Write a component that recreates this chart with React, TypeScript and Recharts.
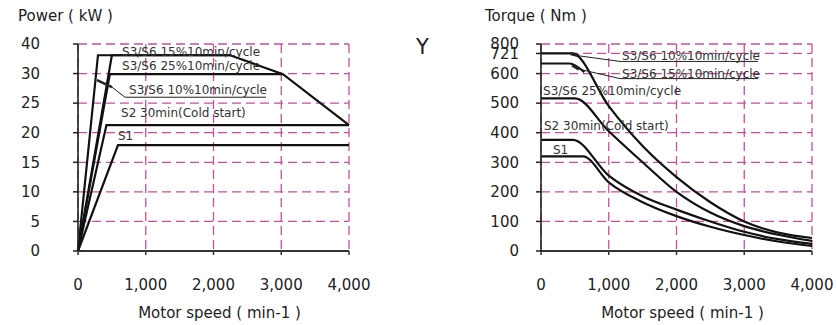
import React from 'react';
import {
  LineChart,
  Line,
  XAxis,
  YAxis,
  CartesianGrid,
  ReferenceLine,
  ReferenceDot,
} from 'recharts';

// shared speed axis (min-1)
const speedTicks = [0, 1000, 2000, 3000, 4000];

// power axis: the top slot is printed as 40 on the original
const powerTickPos = [0, 5, 10, 15, 20, 25, 30, 35];
const powerTickText = ['0', '5', '10', '15', '20', '25', '30', '40'];

// torque axis: 721 and 800 are squeezed into the top slots
const torqueTickPos = [0, 100, 200, 300, 400, 500, 600, 668, 700];
const torqueTickText = ['0', '100', '200', '300', '400', '500', '600', '721', '800'];

// power curves (speed, kW on the drawn scale)
const p15Speed = [0, 295, 2245, 3025, 4000];
const p15Power = [0, 33.1, 33.1, 29.9, 21.3];
const p10Speed = [0, 500, 2245];
const p10Power = [0, 33.1, 33.1];
const p25Speed = [0, 470, 3025];
const p25Power = [0, 29.9, 29.9];
const pS2Speed = [0, 420, 4000];
const pS2Power = [0, 21.3, 21.3];
const pS1Speed = [0, 590, 4000];
const pS1Power = [0, 17.9, 17.9];

// torque curves (speed, Nm on the drawn scale)
const t10Speed = [0, 460, 1000, 1500, 2000, 2500, 3000, 3500, 4000];
const t10Torque = [668, 668, 490, 355, 250, 165, 100, 62, 44];
const t15Speed = [0, 420, 640];
const t15Torque = [634, 634, 605];
const t25Speed = [0, 500, 1000, 1500, 2000, 2500, 3000, 3500, 4000];
const t25Torque = [516, 516, 405, 300, 200, 130, 84, 55, 34];
const tS2Speed = [0, 470, 1000, 1500, 2000, 2500, 3000, 3500, 4000];
const tS2Torque = [376, 376, 255, 185, 140, 100, 65, 40, 24];
const tS1Speed = [0, 620, 1000, 1500, 2000, 2500, 3000, 3500, 4000];
const tS1Torque = [320, 320, 232, 165, 118, 82, 54, 32, 17];

const rows = (xs: number[], ys: number[]) => xs.map((speed, i) => ({ speed, value: ys[i] }));

// curve captions: text, anchor speed, anchor value (left edge, vertical centre)
const powerNotes = [
  { text: 'S3/S6 15%10min/cycle', speed: 650, value: 33.7 },
  { text: 'S3/S6 25%10min/cycle', speed: 650, value: 31.2 },
  { text: 'S3/S6 10%10min/cycle', speed: 753, value: 27.3 },
  { text: 'S2 30min(Cold start)', speed: 635, value: 23.3 },
  { text: 'S1', speed: 590, value: 19.4 },
];
const torqueNotes = [
  { text: 'S3/S6 10%10min/cycle', speed: 1196, value: 658 },
  { text: 'S3/S6 15%10min/cycle', speed: 1196, value: 600 },
  { text: 'S3/S6 25%10min/cycle', speed: 30, value: 542 },
  { text: 'S2 30min(Cold start)', speed: 44, value: 424 },
  { text: 'S1', speed: 177, value: 342 },
];

// leader lines / underlines [speed0, value0, speed1, value1, width]
const powerLeaders = [
  [694, 26.0, 2775, 26.0, 1],
  [694, 26.0, 502, 27.7, 1],
  [502, 27.7, 280, 28.9, 2.5],
];
const torqueLeaders = [
  [1166, 641, 3203, 641, 1],
  [1166, 641, 560, 660, 1],
  [560, 660, 440, 667, 3],
  [1166, 583, 3203, 583, 1],
  [1166, 583, 560, 615, 1],
  [560, 615, 460, 628, 3],
];

const FONT = '"DejaVu Sans", Arial, sans-serif';
const GRID = '#c8509a';
const INK = '#111';

const note = (text: string) => (props: any) => {
  const { x, y } = props.viewBox;
  return (
    <text x={x + 1} y={y + 1} dominantBaseline="central" fontSize={12} fontFamily={FONT} fill="#333">
      {text}
    </text>
  );
};

function Panel(props: {
  left: number;
  width: number;
  margin: { top: number; right: number; left: number; bottom: number };
  yMax: number;
  yTicks: number[];
  yText: string[];
  yTickMargin: number;
  curves: Array<Array<{ speed: number; value: number }>>;
  curveType: 'linear' | 'monotone';
  notes: Array<{ text: string; speed: number; value: number }>;
  leaders: number[][];
}) {
  const { yTicks, yText } = props;
  return (
    <div style={{ position: 'absolute', left: props.left, top: 0 }}>
      <LineChart width={props.width} height={325} margin={props.margin}>
        <CartesianGrid stroke={GRID} strokeDasharray="9 5" strokeWidth={1.3} />
        <XAxis
          type="number"
          dataKey="speed"
          domain={[0, 4000]}
          ticks={speedTicks}
          interval={0}
          height={70}
          tickSize={4}
          tickMargin={24}
          tickFormatter={(v: number) => v.toLocaleString('en-US')}
          tick={{ fontSize: 15, fill: '#222', fontFamily: FONT }}
          axisLine={{ stroke: '#333', strokeWidth: 2 }}
          tickLine={{ stroke: '#333', strokeWidth: 1.5 }}
          label={{
            value: 'Motor speed ( min-1 )',
            position: 'insideBottom',
            offset: 3,
            dx: 6,
            fontSize: 15,
            fill: '#222',
            fontFamily: FONT,
          }}
        />
        <YAxis
          type="number"
          domain={[0, props.yMax]}
          ticks={yTicks}
          interval={0}
          width={60}
          tickSize={5}
          tickMargin={props.yTickMargin}
          tickFormatter={(v: number) => yText[yTicks.indexOf(v)]}
          tick={{ fontSize: 15, fill: '#222', fontFamily: FONT }}
          axisLine={{ stroke: '#222', strokeWidth: 1.6 }}
          tickLine={{ stroke: '#222', strokeWidth: 1.5 }}
        />
        {props.curves.map((data, i) => (
          <Line
            key={i}
            data={data}
            dataKey="value"
            type={props.curveType}
            stroke={INK}
            strokeWidth={2.2}
            dot={false}
            isAnimationActive={false}
          />
        ))}
        {props.leaders.map((s, i) => (
          <ReferenceLine
            key={'l' + i}
            segment={[
              { x: s[0], y: s[1] },
              { x: s[2], y: s[3] },
            ]}
            stroke="#222"
            strokeWidth={s[4]}
          />
        ))}
        {props.notes.map((n, i) => (
          <ReferenceDot
            key={'n' + i}
            x={n.speed}
            y={n.value}
            r={1}
            fill="none"
            stroke="none"
            label={note(n.text)}
          />
        ))}
      </LineChart>
    </div>
  );
}

export default function App() {
  const powerCurves = [
    rows(p15Speed, p15Power),
    rows(p10Speed, p10Power),
    rows(p25Speed, p25Power),
    rows(pS2Speed, pS2Power),
    rows(pS1Speed, pS1Power),
  ];
  const torqueCurves = [
    rows(t10Speed, t10Torque),
    rows(t15Speed, t15Torque),
    rows(t25Speed, t25Torque),
    rows(tS2Speed, tS2Torque),
    rows(tS1Speed, tS1Torque),
  ];
  const title: React.CSSProperties = {
    position: 'absolute',
    top: 8,
    fontSize: 15,
    lineHeight: '17px',
    fontFamily: FONT,
    color: '#222',
    whiteSpace: 'nowrap',
  };
  return (
    <div style={{ position: 'absolute', left: 0, top: 0, width: 837, height: 325, background: '#fff' }}>
      <Panel
        left={0}
        width={420}
        margin={{ top: 44, right: 71, left: 18, bottom: 4 }}
        yMax={35}
        yTicks={powerTickPos}
        yText={powerTickText}
        yTickMargin={33}
        curves={powerCurves}
        curveType="linear"
        notes={powerNotes}
        leaders={powerLeaders}
      />
      <Panel
        left={420}
        width={417}
        margin={{ top: 44, right: 25, left: 61, bottom: 4 }}
        yMax={700}
        yTicks={torqueTickPos}
        yText={torqueTickText}
        yTickMargin={17}
        curves={torqueCurves}
        curveType="monotone"
        notes={torqueNotes}
        leaders={torqueLeaders}
      />
      <div style={{ ...title, left: 18 }}>Power ( kW )</div>
      <div style={{ ...title, left: 485 }}>Torque ( Nm )</div>
      <div style={{ ...title, left: 416, top: 35, fontSize: 21, lineHeight: '24px' }}>Y</div>
    </div>
  );
}
